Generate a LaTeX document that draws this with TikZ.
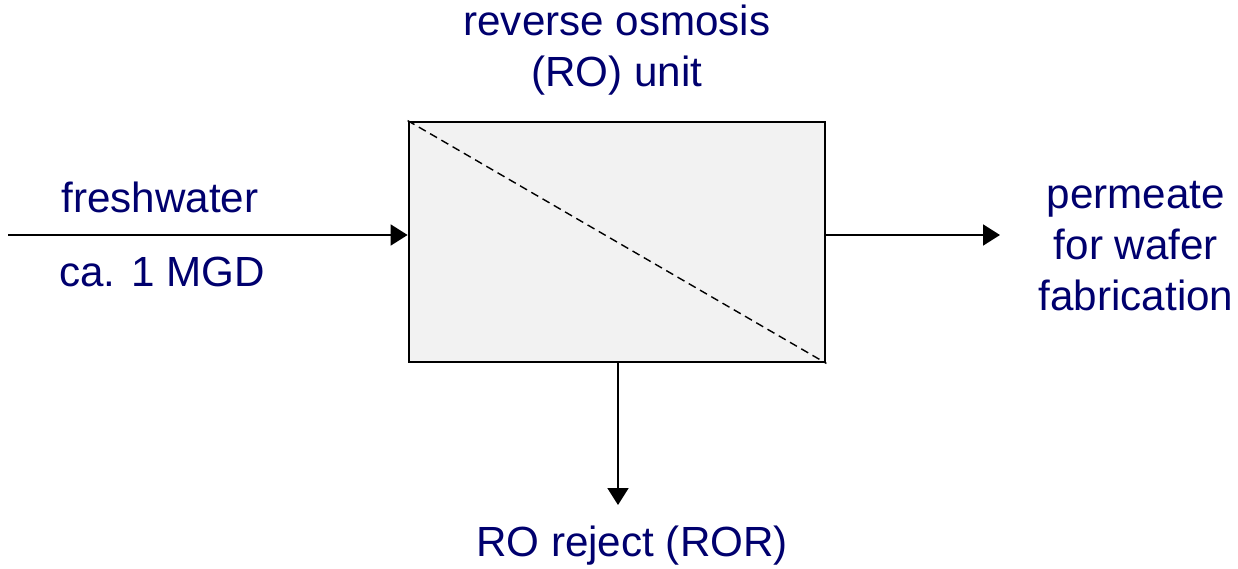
\documentclass[tikz,border=0pt]{standalone}
\usepackage{fontspec}
\setmainfont{Liberation Sans}
\usepackage{tikz}
\usetikzlibrary{positioning,arrows.meta,calc}

\definecolor{labelnavy}{RGB}{0,0,110}

\begin{document}
\begin{tikzpicture}[
    unit/.style={draw=black, fill=black!5, line width=1.6pt,
                 minimum width=8.32cm, minimum height=4.8cm, inner sep=0pt},
    label/.style={text=labelnavy, align=center, inner sep=0pt,
                  font=\fontsize{24}{28.8}\selectfont},
    flow/.style={-{Triangle[length=0.34cm,width=0.42cm]}, line width=1.1pt, black}
]
\useasboundingbox (0,0) rectangle (24.76,11.36);

% RO unit
\node[unit] (ro) at (12.34,6.52) {};
\draw[dash pattern=on 0.16cm off 0.1cm, line width=0.8pt] (ro.north west) -- (ro.south east);

% Labels
\node[label] (unitlbl) at (12.34,10.36) {reverse osmosis\\(RO) unit};
\node[label] (fresh) at (3.2,7.42) {freshwater};
\node[label] (flowrate) at (3.24,5.92) {ca. 1 MGD};
\node[label] (perm) at (22.72,6.44) {permeate\\for wafer\\fabrication};
\node[label] (reject) at (12.64,0.44) {RO reject (ROR)};

% Free ends
\coordinate (feed) at (0.16,6.66);
\coordinate (prod) at (20.0,6.66);
\coordinate (rejend) at (12.36,1.26);

% Streams
\draw[flow] (feed) -- (feed -| ro.west);
\draw[flow] (feed -| ro.east) -- (prod);
\draw[flow] (rejend |- ro.south) -- (rejend);

\end{tikzpicture}
\end{document}
